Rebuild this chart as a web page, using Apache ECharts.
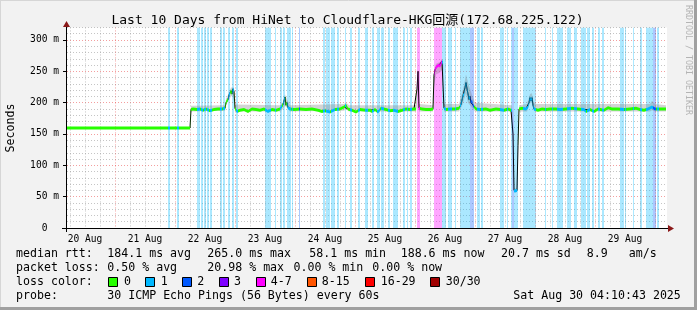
<!DOCTYPE html>
<html><head><meta charset="utf-8">
<script src="https://cdn.jsdelivr.net/npm/echarts@6/dist/echarts.min.js"></script>
<style>html,body{margin:0;padding:0;background:#f2f2f2}#c{width:697px;height:310px}</style>
</head><body><div id="c"></div>
<script>
// ---------------- data ----------------
const TITLE = 'Last 10 Days from HiNet to Cloudflare-HKG回源(172.68.225.122)';
const Y_NAME = 'Seconds';
const dayLabels = ['20 Aug','21 Aug','22 Aug','23 Aug','24 Aug','25 Aug','26 Aug','27 Aug','28 Aug','29 Aug'];
const dayLabelHours = [12,36,60,84,108,132,156,180,204,228];   // hours since 20 Aug 00:00
const xMin = 4.8, xMax = 244.8;
const yMax = 320;
const yLabelValues = [0,50,100,150,200,250,300];

// median rtt (ms) at time (hours since 20 Aug 00:00)
const medianT = [4.8,54.0,54.4,55.2,56.8,58.0,59.2,60.4,62.0,63.6,65.2,66.8,68.0,68.4,68.8,69.2,69.6,70.0,70.4,70.8,
  71.2,71.6,72.0,72.8,74.0,75.6,77.2,78.8,80.4,82.0,83.6,85.2,86.8,88.4,90.0,91.2,91.6,92.0,92.4,92.8,
  93.2,94.0,95.6,98.0,100.4,102.8,105.2,106.8,108.0,110.0,112.0,114.0,115.6,116.4,117.2,118.8,120.4,122.0,124.4,126.0,
  126.8,128.0,129.2,130.4,132.4,134.0,135.6,137.2,138.8,140.4,142.0,143.6,144.4,144.8,145.2,145.6,146.8,148.4,150.0,151.2,
  151.6,152.0,152.4,152.8,153.2,153.6,154.0,154.4,154.8,155.2,155.6,156.4,158.0,160.0,161.6,162.4,162.8,163.2,163.6,164.0,
  164.4,164.8,165.2,165.6,166.0,166.4,166.8,167.2,167.6,168.4,170.0,172.4,174.0,176.4,178.0,179.6,181.2,182.4,182.8,183.2,
  183.6,184.0,184.4,184.8,185.2,185.6,186.8,188.4,189.2,189.6,190.0,190.4,190.8,191.2,191.6,193.2,194.8,196.4,198.0,200.4,
  202.0,204.4,206.8,209.2,211.6,212.4,214.0,215.6,217.2,219.6,221.2,222.8,225.2,227.6,230.0,232.4,234.0,235.6,237.2,238.8,
  240.0,241.2,242.8,244.4];
const medianV = [159.5,159.5,189,190,189,190,188,190,187,189,190,190,191,200,203,205,212,215,219,214,
  222,218,191,186,188,189,186,190,189,188,190,186,189,188,190,197,203,209,196,200,
  192,190,189,190,189,190,188,186,187,185,189,190,193,196,190,188,185,189,188,188,
  186,189,185,191,189,187,188,186,188,190,189,190,190,222,250,191,190,189,189,190,
  244,252,256,258,259,260,258,262,266,263,191,189,190,190,191,197,204,211,214,224,
  232,222,214,205,210,200,203,196,194,190,189,190,188,190,189,188,190,188,188,150,
  60,58.5,60,60,132,190,191,190,193,200,208,203,208,196,190,188,190,189,190,190,
  189,190,191,190,189,186,189,186,190,188,192,190,190,189,190,191,189,188,190,193,
  190,190,190,190];

// smoke (ping spread) envelope
const smokeT  = [54.4,68.0,68.4,69.6,70.4,71.2,71.6,72.0,90.0,91.2,92.0,92.8,94.0,115.6,116.4,117.6,144.4,144.8,145.2,145.6,
  151.2,151.6,152.4,154.0,154.8,155.2,155.6,161.6,162.8,163.6,164.4,165.2,166.0,166.8,168.0,182.8,183.2,183.6,184.8,185.2,
  185.6,188.8,189.6,190.0,190.8,191.2,192.0,238.0,238.8,240.0,244.4];
const smokeLo = [186,187,195,205,210,212,200,186,186,190,195,192,186,187,190,186,186,200,225,186,
  186,225,245,248,252,250,186,186,195,205,215,200,196,192,186,186,146,57,57,129,
  186,186,195,200,200,190,186,186,188,186,186];
const smokeHi = [195,196,206,216,224,224,222,197,196,201,213,205,196,198,200,196,196,230,255,198,
  196,252,262,265,270,268,198,198,215,228,245,232,222,212,200,196,154,63,63,135,
  196,198,208,214,215,204,198,198,203,198,196];

// packet-loss background bands: start / end (hours), loss class index
const bandStart = [45.2,48.8,56.8,58.4,59.6,60.8,62.0,66.0,67.2,69.2,70.8,72.4,84.0,88.0,90.0,91.2,92.8,94.8,97.6,107.2,
  108.4,110.4,112.8,116.0,118.0,121.2,124.0,126.8,128.8,130.4,133.2,135.2,139.2,140.8,142.0,144.8,151.6,154.8,157.2,160.0,
  162.0,166.0,168.8,170.4,178.0,180.8,182.4,182.8,183.6,187.2,196.0,198.8,200.8,204.8,207.6,210.4,212.8,214.8,217.2,218.8,
  226.0,228.0,231.2,234.0,236.4,239.2,240.8];
const bandEnd = [46.0,49.6,58.0,59.2,60.4,61.6,62.8,66.8,68.0,70.0,71.6,73.2,86.4,88.4,90.8,92.0,94.4,95.2,98.0,108.0,
  110.0,112.0,113.6,116.4,118.8,122.0,125.2,127.6,130.0,131.6,134.0,137.2,140.0,141.2,142.8,146.0,154.8,156.4,158.8,160.4,
  166.0,167.6,170.0,171.2,179.6,181.2,182.8,183.6,185.2,192.4,196.4,199.2,203.2,206.4,208.8,212.4,214.0,215.6,218.0,219.6,
  227.6,228.4,231.6,234.8,239.2,240.4,241.6];
const bandLevel = [1,1,1,1,1,1,1,1,1,1,1,1,1,1,1,1,1,1,2,1,
  1,1,1,1,1,1,1,1,1,1,1,1,1,1,1,4,4,1,1,1,
  1,2,1,1,1,1,1,2,1,1,1,1,1,1,1,1,1,1,1,1,
  1,1,1,1,1,2,1];

const lossLabels = ['0','1','2','3','4-7','8-15','16-29','30/30'];
const lossColors = ['#26ff00','#00b8ff','#0059ff','#7e00ff','#ff00ff','#ff5500','#ff0000','#a00000'];
const bandColors = ['rgba(38,255,0,0.33)','rgba(0,184,255,0.33)','rgba(0,89,255,0.33)','rgba(126,0,255,0.33)',
  'rgba(255,0,255,0.35)','rgba(255,85,0,0.33)','rgba(255,0,0,0.33)','rgba(160,0,0,0.33)'];

const statLines = [
  [['median rtt:',16],['184.1 ms avg',107.3],['265.0 ms max',207.3],['58.1 ms min',309.3],['188.6 ms now',400.7],['20.7 ms sd',501],['8.9',586.7],['am/s',628.7]],
  [['packet loss:',16],['0.50 % avg',107.3],['20.98 % max',207.3],['0.00 % min',293.5],['0.00 % now',372.3]],
  [['loss color:',16]],
  [['probe:',16],['30 ICMP Echo Pings (56 Bytes) every 60s',107.3],['Sat Aug 30 04:10:43 2025',513.3]]
];
const statLineY = [254.3, 268.3, 282.4, 296.2];
const lossBoxX = [108,145,182,219,256,307,365,430];
const lossTextX = [124,160.7,197.3,234,270.7,321.7,380.7,445.7];

// ---------------- drawing ----------------
const MONO = '"DejaVu Sans Mono", "Noto Sans CJK SC", monospace';
const BAND_HALF = 2.4;
const RED_GRID = 'rgba(230,40,40,0.45)';
const GRAY_GRID = 'rgba(150,150,150,0.55)';
const gridHours = [];
for (let h = 6; h <= 240; h += 6) gridHours.push([h, 0]);

const chart = echarts.init(document.getElementById('c'), null, {renderer: 'canvas'});

function renderBand(params, api) {
  const a = api.coord([api.value(0), yMax]);
  const b = api.coord([api.value(1), 0]);
  const x0 = Math.round(a[0]), x1 = Math.max(Math.round(b[0]), x0 + 1);
  return {type: 'rect', shape: {x: x0, y: a[1], width: x1 - x0, height: b[1] - a[1]},
    style: {fill: bandColors[api.value(2)]}};
}
function renderVGrid(params, api) {
  const h = api.value(0);
  const t = api.coord([h, yMax]), b = api.coord([h, 0]);
  const x = Math.round(t[0]) + 0.5;
  return {type: 'line', shape: {x1: x, y1: t[1], x2: x, y2: b[1]},
    style: {stroke: h % 24 === 0 ? RED_GRID : GRAY_GRID, lineWidth: 1, lineDash: [1, 2]}};
}
function renderSmoke(params, api) {
  const up = [], lo = [];
  for (let i = 0; i < smokeT.length; i++) {
    up.push(api.coord([smokeT[i], smokeHi[i]]));
    lo.push(api.coord([smokeT[i], smokeLo[i]]));
  }
  return {type: 'polygon', shape: {points: up.concat(lo.reverse())}, style: {fill: 'rgba(120,120,120,0.32)'}};
}
function renderColorBand(params, api) {
  const up = [], lo = [];
  for (let i = 0; i < medianT.length; i++) {
    up.push(api.coord([medianT[i], medianV[i] + BAND_HALF]));
    lo.push(api.coord([medianT[i], medianV[i] - BAND_HALF]));
  }
  const x0 = api.coord([xMin, 0])[0], x1 = api.coord([xMax, 0])[0];
  const off = t => Math.min(1, Math.max(0, (Math.round(api.coord([t, 0])[0]) - x0) / (x1 - x0)));
  const g = lossColors[0];
  const stops = [{offset: 0, color: g}];
  for (let i = 0; i < bandStart.length; i++) {
    const a = off(bandStart[i]), b = off(bandEnd[i]), c = lossColors[bandLevel[i]];
    stops.push({offset: a, color: g}, {offset: a, color: c}, {offset: b, color: c}, {offset: b, color: g});
  }
  stops.push({offset: 1, color: g});
  return {type: 'polygon', shape: {points: up.concat(lo.reverse())},
    style: {fill: {type: 'linear', x: x0, y: 0, x2: x1, y2: 0, global: true, colorStops: stops}}};
}

const graphics = [];
// frame
graphics.push({type: 'line', shape: {x1: 0, y1: 0.5, x2: 697, y2: 0.5}, style: {stroke: '#d6d6d6', lineWidth: 1}});
graphics.push({type: 'line', shape: {x1: 0.5, y1: 0, x2: 0.5, y2: 310}, style: {stroke: '#d6d6d6', lineWidth: 1}});
graphics.push({type: 'line', shape: {x1: 0, y1: 308.5, x2: 697, y2: 308.5}, style: {stroke: '#a0a0a0', lineWidth: 3}});
graphics.push({type: 'line', shape: {x1: 695.5, y1: 0, x2: 695.5, y2: 310}, style: {stroke: '#a0a0a0', lineWidth: 3}});
// axes
graphics.push({type: 'line', z: 50, shape: {x1: 62, y1: 228.5, x2: 669, y2: 228.5}, style: {stroke: '#000', lineWidth: 1}});
graphics.push({type: 'line', z: 50, shape: {x1: 66.5, y1: 232, x2: 66.5, y2: 24}, style: {stroke: '#000', lineWidth: 1}});
graphics.push({type: 'polygon', z: 51, shape: {points: [[668, 225], [668, 232], [674, 228.5]]}, style: {fill: '#8b1a1a'}});
graphics.push({type: 'polygon', z: 51, shape: {points: [[63, 27], [70, 27], [66.5, 21]]}, style: {fill: '#8b1a1a'}});
// title & side texts
graphics.push({type: 'text', x: 347.5, y: 20.5, style: {text: TITLE, font: '13px ' + MONO, fill: '#000', align: 'center', verticalAlign: 'middle'}});
graphics.push({type: 'text', x: 11, y: 128, rotation: Math.PI / 2, style: {text: Y_NAME, font: '11.6px ' + MONO, fill: '#000', align: 'center', verticalAlign: 'middle'}});
graphics.push({type: 'text', x: 688, y: 60, rotation: -Math.PI / 2, style: {text: 'RRDTOOL / TOBI OETIKER', font: '8.3px ' + MONO, fill: '#b4b4b4', align: 'center', verticalAlign: 'middle'}});
// stats lines
statLines.forEach((line, li) => line.forEach(([txt, x]) => {
  graphics.push({type: 'text', x: x, y: statLineY[li], style: {text: txt, font: '11.6px ' + MONO, fill: '#000', align: 'left', verticalAlign: 'middle'}});
}));
lossLabels.forEach((lab, i) => {
  graphics.push({type: 'rect', shape: {x: lossBoxX[i] + 0.5, y: 277.5, width: 9, height: 9}, style: {fill: lossColors[i], stroke: '#000', lineWidth: 1}});
  graphics.push({type: 'text', x: lossTextX[i], y: statLineY[2], style: {text: lab, font: '11.6px ' + MONO, fill: '#000', align: 'left', verticalAlign: 'middle'}});
});

chart.setOption({
  animation: false,
  backgroundColor: '#f2f2f2',
  grid: {left: 67, right: 30, top: 27.45, bottom: 82, show: true, backgroundColor: '#ffffff', borderWidth: 0},
  xAxis: [{
    type: 'value', min: xMin, max: xMax,
    axisLine: {show: false}, axisTick: {show: false}, splitLine: {show: false},
    axisLabel: {show: true, customValues: dayLabelHours, margin: 6, color: '#000', fontFamily: 'DejaVu Sans Mono', fontSize: 9.6,
      formatter: v => dayLabels[dayLabelHours.indexOf(Math.round(v))] || ''}
  }],
  yAxis: [{
    type: 'value', min: 0, max: yMax, interval: 10,
    axisLine: {show: false}, axisTick: {show: false}, axisLabel: {show: false},
    splitLine: {show: true, lineStyle: {color: [RED_GRID, GRAY_GRID, GRAY_GRID, GRAY_GRID, GRAY_GRID], type: [1, 2], width: 1}}
  }, {
    type: 'value', min: 0, max: yMax, position: 'left',
    axisLine: {show: false}, splitLine: {show: false},
    axisTick: {show: true, length: 4, customValues: yLabelValues, lineStyle: {color: '#000'}},
    axisLabel: {margin: 8, color: '#000', fontFamily: 'DejaVu Sans Mono', fontSize: 9.6, customValues: yLabelValues,
      formatter: v => v === 0 ? '0  ' : v + ' m'}
  }],
  series: [
    {type: 'custom', name: 'loss', z: 1, clip: true, renderItem: renderBand,
      data: bandStart.map((s, i) => [s, bandEnd[i], bandLevel[i]]), silent: true},
    {type: 'custom', name: 'vgrid', z: 1, clip: true, renderItem: renderVGrid, data: gridHours, silent: true},
    {type: 'custom', name: 'smoke', z: 2, clip: true, renderItem: renderSmoke, data: [[xMin, 0]], silent: true},
    {type: 'line', name: 'median', z: 3, data: medianT.map((t, i) => [t, medianV[i]]), showSymbol: false, symbol: 'none',
      lineStyle: {color: '#000', width: 1}, silent: true, clip: true},
    {type: 'custom', name: 'medianColor', z: 4, clip: true, renderItem: renderColorBand, data: [[xMin, 0]], silent: true}
  ],
  graphic: graphics
});
</script>
</body></html>
